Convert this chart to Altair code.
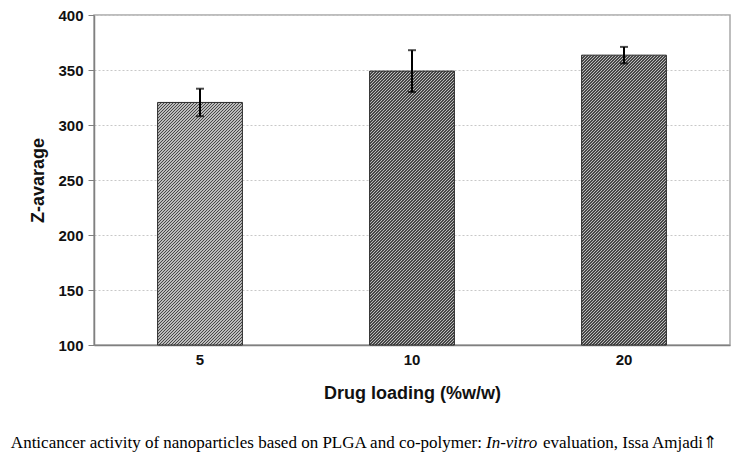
import altair as alt
import pandas as pd

# ---- data ----
loading = ["5", "10", "20"]
z_avg = [320.5, 349.0, 363.5]
z_err = [12.5, 19.0, 7.5]

caption_1 = "Anticancer activity of nanoparticles based on PLGA and co-polymer:"
caption_2 = "In-vitro"
caption_3 = "evaluation, Issa Amjadi\u21d1"

Y_MIN, Y_MAX = 100, 400

df = pd.DataFrame({"loading": loading, "z": z_avg, "err": z_err})
df["lo"] = df["z"] - df["err"]
df["hi"] = df["z"] + df["err"]

W, H = 636, 330
P_INNER, P_OUTER = 0.6, 0.3
step = W / (len(loading) - P_INNER + 2 * P_OUTER)
bar_w = step * (1 - P_INNER)

dark, light = "#474747", "#bcbcbc"
PITCH = 3.0  # hatch period in px, horizontal


def hatch_for(value):
    """45-degree hatch gradient sized to one bar's box."""
    h = (value - Y_MIN) / (Y_MAX - Y_MIN) * H
    w = bar_w
    k = (w + h) / (w * w + h * h)
    n = int((w + h) / PITCH) + 1
    stops = []
    for i in range(n):
        p0 = i * PITCH / (w + h)
        pm = (i + 0.5) * PITCH / (w + h)
        p1 = (i + 1) * PITCH / (w + h)
        if p0 > 1:
            break
        stops += [
            alt.GradientStop(offset=min(p0, 1.0), color=dark),
            alt.GradientStop(offset=min(pm, 1.0), color=dark),
            alt.GradientStop(offset=min(pm, 1.0), color=light),
            alt.GradientStop(offset=min(p1, 1.0), color=light),
        ]
    return alt.LinearGradient(
        gradient="linear", stops=stops, x1=0, y1=0, x2=k * w, y2=k * h
    )


x_axis = alt.Axis(
    title="Drug loading (%w/w)",
    labelAngle=0,
    labelFont="Liberation Sans",
    labelFontSize=15,
    labelFontWeight="bold",
    labelColor="#111111",
    labelPadding=7,
    ticks=False,
    domainColor="#808080",
    domainWidth=1.5,
    titleFont="Liberation Sans",
    titleFontSize=18,
    titleFontWeight="bold",
    titleColor="#111111",
    titlePadding=17,
    grid=False,
)
x_scale = alt.Scale(paddingInner=P_INNER, paddingOuter=P_OUTER)
y_scale = alt.Scale(domain=[Y_MIN, Y_MAX], nice=False, zero=False)
y_axis = alt.Axis(
    title="Z-avarage",
    values=[100, 150, 200, 250, 300, 350, 400],
    labelFont="Liberation Sans",
    labelFontSize=15,
    labelFontWeight="bold",
    labelColor="#111111",
    labelPadding=5,
    tickSize=6,
    tickColor="#808080",
    domainColor="#808080",
    domainWidth=1.5,
    titleFont="Liberation Sans",
    titleFontSize=18,
    titleFontWeight="bold",
    titleColor="#111111",
    titlePadding=10,
    grid=True,
    gridColor="#c8c8c8",
    gridDash=[2, 2],
    gridWidth=1,
)

bar_layers = []
for cat, val in zip(loading, z_avg):
    b = (
        alt.Chart(df)
        .transform_filter(alt.datum.loading == cat)
        .mark_bar(color=hatch_for(val), stroke="#2a2a2a", strokeWidth=1)
        .encode(
            x=alt.X("loading:N", sort=loading, scale=x_scale, axis=x_axis),
            y=alt.Y("z:Q", scale=y_scale, axis=y_axis),
            y2=alt.Y2(datum=Y_MIN),
        )
    )
    bar_layers.append(b)

rules = alt.Chart(df).mark_rule(color="black", strokeWidth=2).encode(
    x=alt.X("loading:N", sort=loading, axis=x_axis),
    y=alt.Y("lo:Q", scale=y_scale, axis=y_axis),
    y2="hi:Q",
)
cap_lo = alt.Chart(df).mark_tick(color="black", thickness=2, size=8).encode(
    x=alt.X("loading:N", sort=loading, axis=x_axis),
    y=alt.Y("lo:Q", scale=y_scale, axis=y_axis),
)
cap_hi = alt.Chart(df).mark_tick(color="black", thickness=2, size=8).encode(
    x=alt.X("loading:N", sort=loading, axis=x_axis),
    y=alt.Y("hi:Q", scale=y_scale, axis=y_axis),
)

cap_df = pd.DataFrame({"t1": [caption_1], "t2": [caption_2], "t3": [caption_3]})
base_cap = alt.Chart(cap_df)
cap_y = 433
FS = 17
t1 = base_cap.mark_text(
    font="Liberation Serif", fontSize=FS, align="right", baseline="alphabetic", color="black"
).encode(text="t1:N", x=alt.value(388), y=alt.value(cap_y))
t2 = base_cap.mark_text(
    font="Liberation Serif", fontSize=FS, fontStyle="italic", align="left",
    baseline="alphabetic", color="black"
).encode(text="t2:N", x=alt.value(392), y=alt.value(cap_y))
t3 = base_cap.mark_text(
    font="Liberation Serif", fontSize=FS, align="left", baseline="alphabetic", color="black"
).encode(text="t3:N", x=alt.value(449), y=alt.value(cap_y))

chart = alt.layer(*bar_layers, rules, cap_lo, cap_hi, t1, t2, t3).properties(
    width=W,
    height=H,
    autosize=alt.AutoSizeParams(type="none"),
    padding={"left": 86, "top": 7, "right": 17, "bottom": 107},
    background="white",
).configure_view(stroke="#a8a8a8", strokeWidth=1.5)

chart.save("out.html", embed_options={"renderer": "svg", "actions": False})
